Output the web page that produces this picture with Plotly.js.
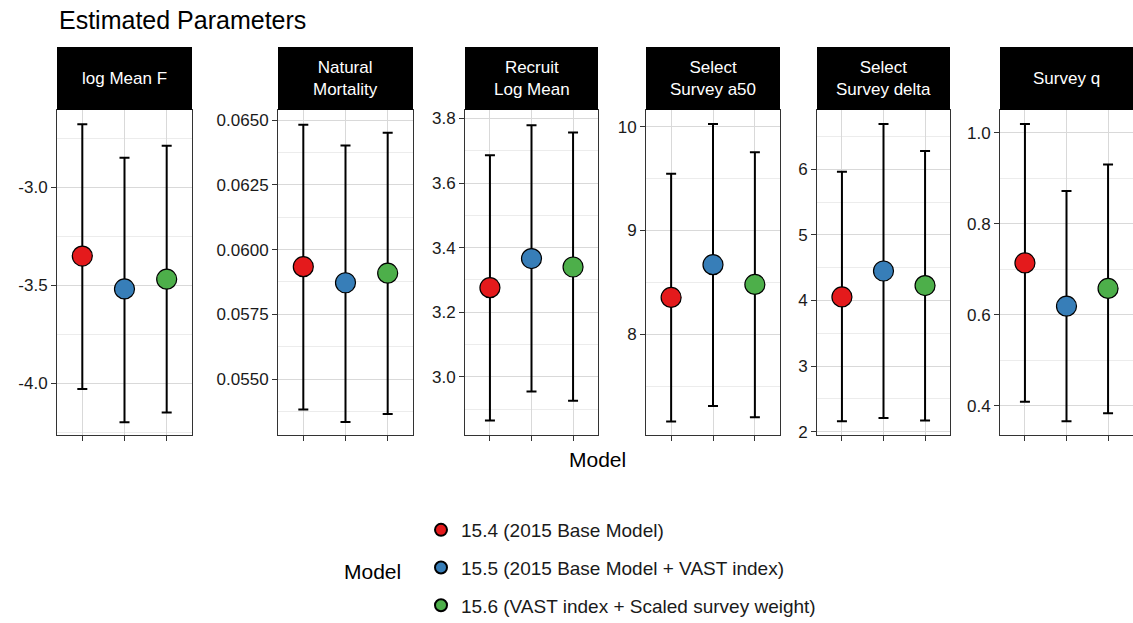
<!DOCTYPE html>
<html><head><meta charset="utf-8">
<script src="https://cdn.plot.ly/plotly-3.0.1.min.js"></script>
<style>body{margin:0}</style></head>
<body><div id="c" style="width:1133px;height:623px"></div>
<script>
const panels = ["log Mean F","Natural<br>Mortality","Recruit<br>Log Mean","Select<br>Survey a50","Select<br>Survey delta","Survey q"];
const models = ["15.4 (2015 Base Model)","15.5 (2015 Base Model + VAST index)","15.6 (VAST index + Scaled survey weight)"];
const colors = ["#E41A1C","#377EB8","#4DAF4A"];
// est, lower, upper per panel, per model
const est = [[-3.352,-3.52,-3.47],[0.05934,0.05872,0.05909],[3.276,3.366,3.340],[8.355,8.67,8.48],[4.054,4.45,4.227],[0.714,0.619,0.658]];
const lower = [[-4.03,-4.20,-4.15],[0.05382,0.05334,0.05365],[2.865,2.955,2.926],[7.16,7.31,7.20],[2.16,2.21,2.17],[0.409,0.366,0.384]];
const upper = [[-2.68,-2.85,-2.79],[0.06482,0.06402,0.06451],[3.686,3.779,3.756],[9.545,10.026,9.753],[5.964,6.69,6.28],[1.019,0.872,0.930]];
const yRanges = [[-4.265,-2.607],[0.05284,0.06539],[2.82,3.826],[7.03,10.16],[1.95,6.904],[0.336,1.05]];
const yTicks = [[-4,-3.5,-3],[0.055,0.0575,0.06,0.0625,0.065],[3.0,3.2,3.4,3.6,3.8],[8,9,10],[2,3,4,5,6],[0.4,0.6,0.8,1.0]];
const yTickText = [["-4.0","-3.5","-3.0"],["0.0550","0.0575","0.0600","0.0625","0.0650"],["3.0","3.2","3.4","3.6","3.8"],["8","9","10"],["2","3","4","5","6"],["0.4","0.6","0.8","1.0"]];
const yDtick = [0.5,0.0025,0.2,1,1,0.2];
const xPix = [[57,192],[278,413],[465,598],[646,780],[817,950],[1000,1133]];
const W=1133,H=623;
const yDom=[1-435/H,1-110/H];
const FONT='Liberation Sans, Arial, sans-serif';
const traces=[],layout={
  width:W,height:H,margin:{l:0,r:0,t:0,b:0,autoexpand:false},paper_bgcolor:'white',plot_bgcolor:'white',
  font:{family:FONT,color:'#1a1a1a'},
  showlegend:true,
  legend:{x:421/W,y:1-511/H,xanchor:'left',yanchor:'top',font:{size:19,color:'#1a1a1a'},
    itemsizing:'constant',tracegroupgap:10},
  shapes:[],annotations:[
    {text:'Estimated Parameters',xref:'paper',yref:'paper',x:57/W,y:1-20/H,xanchor:'left',yanchor:'middle',showarrow:false,font:{size:25,color:'black'}},
    {text:'Model',xref:'paper',yref:'paper',x:597/W,y:1-460/H,xanchor:'center',yanchor:'middle',showarrow:false,font:{size:21,color:'black'}},
    {text:'Model',xref:'paper',yref:'paper',x:342/W,y:1-571/H,xanchor:'left',yanchor:'middle',showarrow:false,font:{size:21,color:'black'}}
  ]};
panels.forEach((p,i)=>{
  const s=i===0?'':String(i+1);
  layout['xaxis'+s]={domain:[xPix[i][0]/W,xPix[i][1]/W],range:[0.4,3.6],anchor:'y'+s,
    tickvals:[1,2,3],ticktext:['','',''],ticks:'outside',ticklen:5,tickcolor:'#333',
    showgrid:true,gridcolor:'#d9d9d9',gridwidth:1,showline:true,mirror:true,linecolor:'#333',linewidth:1,zeroline:false,fixedrange:true};
  layout['yaxis'+s]={domain:yDom,range:yRanges[i],anchor:'x'+s,tickvals:yTicks[i],ticktext:yTickText[i],
    ticks:'outside',ticklen:5,tickcolor:'#333',tickfont:{size:17,color:'#1a1a1a'},
    showgrid:true,gridcolor:'#d9d9d9',gridwidth:1,minor:{dtick:yDtick[i]/2,tick0:0,showgrid:true,gridcolor:'#ececec',gridwidth:1},
    showline:true,mirror:true,linecolor:'#333',linewidth:1,zeroline:false,fixedrange:true};
  layout.shapes.push({type:'rect',xref:'paper',yref:'paper',x0:xPix[i][0]/W,x1:xPix[i][1]/W,y0:1-110/H,y1:1-47/H,fillcolor:'black',line:{width:0}});
  layout.annotations.push({text:p,xref:'paper',yref:'paper',x:(xPix[i][0]+xPix[i][1])/2/W,y:1-78.5/H,xanchor:'center',yanchor:'middle',showarrow:false,font:{size:17,color:'white'}});
  models.forEach((m,j)=>{
    traces.push({type:'scatter',mode:'markers',x:[j+1],y:[est[i][j]],xaxis:'x'+s,yaxis:'y'+s,
      name:m,legendgroup:m,showlegend:i===0,cliponaxis:false,
      marker:{size:20,color:colors[j],line:{color:'black',width:1.2}},
      error_y:{type:'data',symmetric:false,array:[upper[i][j]-est[i][j]],arrayminus:[est[i][j]-lower[i][j]],color:'black',thickness:2,width:5}});
  });
});
Plotly.newPlot('c',traces,layout,{displayModeBar:false,staticPlot:true});
</script></body></html>
